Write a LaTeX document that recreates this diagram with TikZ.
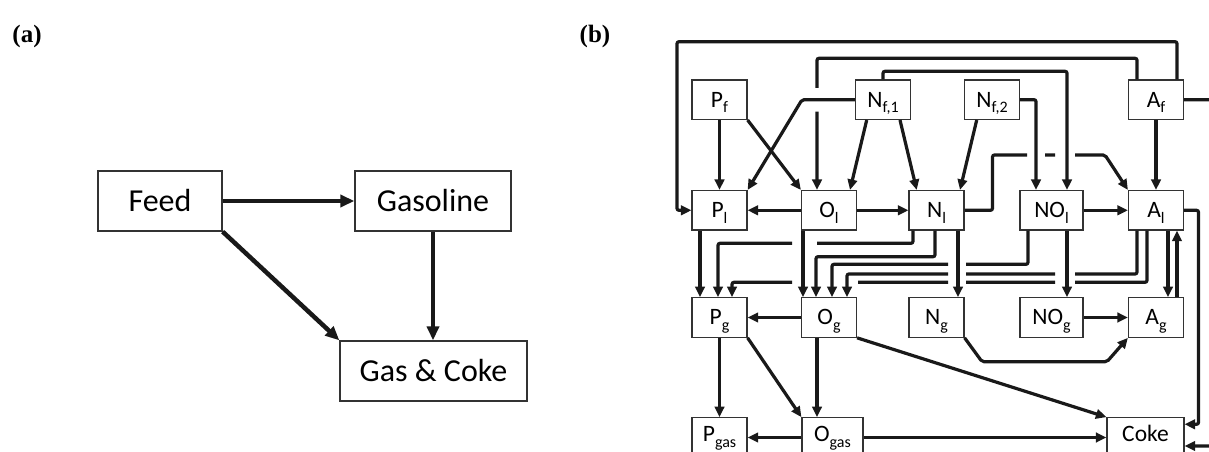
\documentclass[tikz,border=0pt]{standalone}
\usepackage{fontspec}
\setmainfont{Carlito}
\newfontfamily\panelfont{Liberation Serif}
\usepackage{tikz}
\usetikzlibrary{arrows.meta}

\newcommand{\sub}[1]{\raisebox{-5.5pt}{\fontsize{16}{18}\selectfont #1}}

\begin{document}
\begin{tikzpicture}[
  x=1pt, y=1pt,
  every node/.style={align=center},
  boxa/.style={draw=black!80, line width=1.3pt, inner sep=0pt,
               minimum height=60pt, font=\fontsize{32}{38}\selectfont},
  boxb/.style={draw=black!80, line width=1.2pt, inner sep=0pt,
               minimum width=55pt, minimum height=39.5pt,
               text height=18pt, text depth=3pt,
               font=\fontsize{23.5}{28}\selectfont},
  gasrow/.style={text height=13pt, text depth=5pt},
  arra/.style={-{Triangle[length=14pt, width=12pt]}, line width=4.5pt, black!90},
  arrb/.style={-{Triangle[length=10.5pt, width=9.5pt]}, line width=3.2pt, black!90,
               rounded corners=2pt},
  plabel/.style={font=\panelfont\bfseries\fontsize{25}{30}\selectfont},
]
\useasboundingbox (0,0) rectangle (1209,452);

\node[plabel] (la) at (27,416) {(a)};
\node[plabel] (lb) at (595,416) {(b)};

% (a) lumped scheme
\node[boxa, minimum width=124pt] (feed)     at (160,251)  {Feed};
\node[boxa, minimum width=156pt] (gasoline) at (433,251)  {Gasoline};
\node[boxa, minimum width=187pt] (gascoke)  at (433.5,81) {Gas \& Coke};

\draw[arra] (feed.east) -- (gasoline.west);
\draw[arra] (feed.south east) -- (gascoke.north west);
\draw[arra] (gasoline.south) -- (gasoline.south |- gascoke.north);

% (b) detailed scheme
\node[boxb] (Pf)  at (719.5,352.3) {P\sub{f}};
\node[boxb] (Nf1) at (883,352.3)   {N\sub{f,1}};
\node[boxb] (Nf2) at (992,352.3)   {N\sub{f,2}};
\node[boxb] (Af)  at (1156,352.3)  {A\sub{f}};

\node[boxb] (Pl)  at (719.5,241.7) {P\sub{l}};
\node[boxb] (Ol)  at (829,241.7)   {O\sub{l}};
\node[boxb] (Nl)  at (936.5,241.7) {N\sub{l}};
\node[boxb, minimum width=63pt] (NOl) at (1051.5,241.7) {NO\sub{l}};
\node[boxb] (Al)  at (1156,241.7)  {A\sub{l}};

\node[boxb] (Pg)  at (719.5,134.5) {P\sub{g}};
\node[boxb] (Og)  at (829,134.5)   {O\sub{g}};
\node[boxb] (Ng)  at (936.5,134.5) {N\sub{g}};
\node[boxb, minimum width=63pt] (NOg) at (1051.5,134.5) {NO\sub{g}};
\node[boxb] (Ag)  at (1156,134.5)  {A\sub{g}};

\node[boxb, gasrow] (Pgas) at (719.5,14.5) {P\sub{gas}};
\node[boxb, gasrow, minimum width=61pt] (Ogas) at (832.5,14.5) {O\sub{gas}};
\node[boxb, gasrow, minimum width=77pt] (coke) at (1145.5,14.5) {Coke};

% feed -> liquid
\draw[arrb] (Pf.south) -- (Pl.north);
\draw[arrb] (Pf.south east) -- (Ol.north west);
\draw[arrb] (Nf1.west) -- (802,0 |- Nf1.west) -- (Pl.north east);
\draw[arrb] (866.7,0 |- Nf1.south) -- (850,0 |- Ol.north);
\draw[arrb] (900,0 |- Nf1.south) -- (916.7,0 |- Nl.north);
\draw[arrb] (976.7,0 |- Nf2.south) -- (960,0 |- Nl.north);
\draw[arrb] (Nf2.east) -| (1036,0 |- NOl.north);
\draw[arrb] (Nf1.north) |- (1067,380.7) -- (1067,0 |- NOl.north);
\draw[arrb] (Af.south) -- (Al.north);
\draw[arrb] (1137,0 |- Af.north) |- (817,393.7) -- (817,364)
            (817,340.3) -- (817,0 |- Ol.north);
\draw[arrb] (1177,0 |- Af.north) |- (677,410.3) |- (Pl.west);
\draw[arrb] (Af.east) -| (1216,6) -- (coke.east |- 0,6);

% liquid row
\draw[arrb] (Ol.west) -- (Pl.east);
\draw[arrb] (Ol.east) -- (Nl.west);
\draw[arrb] (NOl.east) -- (Al.west);
\draw[arrb] (Nl.east) -| (992.5,297) -- (1027,297) (1045,297) -- (1055,297)
            (1075,297) -- (1105,297) -- (Al.north west);
\draw[arrb] (Al.east) -| (1198.5,27.7) -- (coke.east |- 0,27.7);

% liquid -> gasoline
\draw[arrb] (700,0 |- Pl.south) -- (700,0 |- Pg.north);
\draw[arrb] (803,0 |- Ol.south) -- (803,0 |- Pg.north);
\draw[arrb] (913,0 |- Nl.south) |- (817,208.7) (792,208.7) -| (718,0 |- Pg.north);
\draw[arrb] (935,0 |- Nl.south) |- (816,195.3) -- (816,0 |- Og.north);
\draw[arrb] (958,0 |- Nl.south) -- (958,0 |- Ng.north);
\draw[arrb] (1028,0 |- NOl.south) |- (966,187.7) (948,187.7) -| (832,0 |- Og.north);
\draw[arrb] (1137,0 |- Al.south) |- (1075,178) (1055,178) -- (966,178)
            (948,178) -| (847,0 |- Og.north);
\draw[arrb] (1147,0 |- Al.south) |- (1075,169.7) (1055,169.7) -- (966,169.7)
            (948,169.7) -- (858,169.7) (792,169.7) -| (732,0 |- Pg.north);
\draw[arrb] (1067,0 |- NOl.south) -- (1067,0 |- NOg.north);
\draw[arrb] (1168,0 |- Al.south) -- (1168,0 |- Ag.north);
\draw[arrb] (1177,0 |- Ag.north) -- (1177,0 |- Al.south);

% gasoline row -> gas and coke
\draw[arrb] (Og.west) -- (Pg.east);
\draw[arrb] (NOg.east) -- (Ag.west);
\draw[arrb] (Ng.south east) -- (982,90.3) -- (1107,90.3) -- (Ag.south west);
\draw[arrb] (Og.south east) -- (coke.north west);
\draw[arrb] (Pg.south) -- (Pgas.north);
\draw[arrb] (Pg.south east) -- (Ogas.north west);
\draw[arrb] (817,0 |- Og.south) -- (817,0 |- Ogas.north);
\draw[arrb] (Ogas.west) -- (Pgas.east);
\draw[arrb] (Ogas.east) -- (coke.west);

\end{tikzpicture}
\end{document}
